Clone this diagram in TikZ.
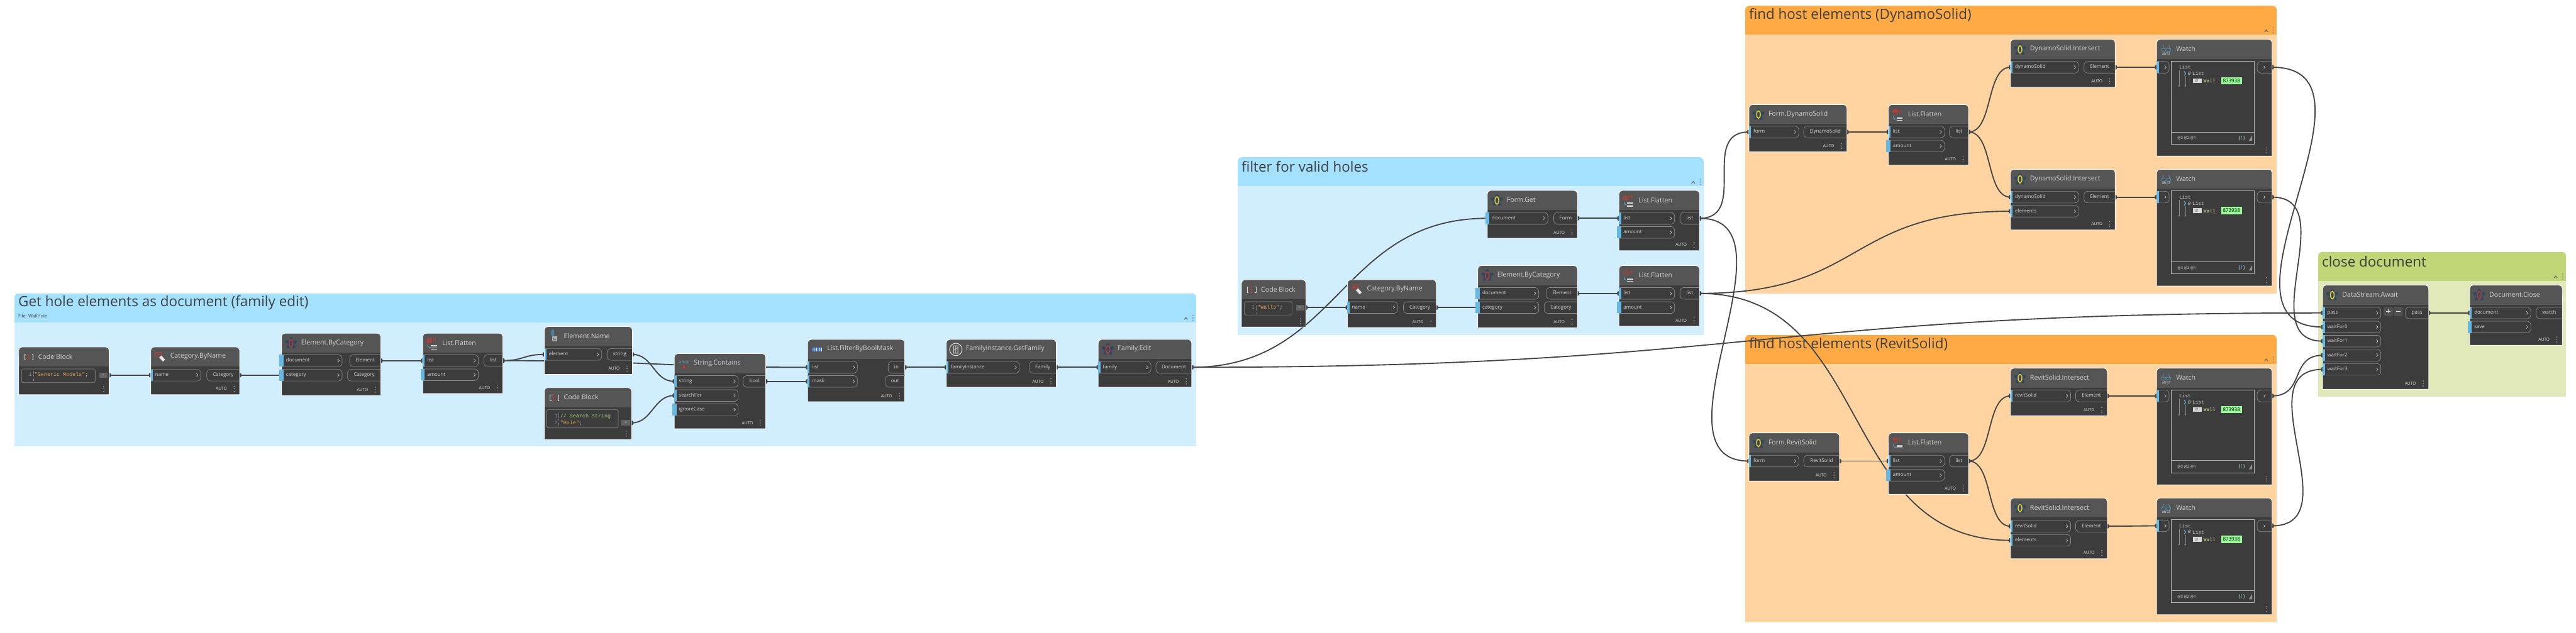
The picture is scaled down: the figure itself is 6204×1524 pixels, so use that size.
\documentclass[tikz,border=0pt]{standalone}
\usepackage{fontspec}
\setmainfont{Open Sans}
\setmonofont{Liberation Mono}
\usepackage{xcolor}
\usetikzlibrary{calc, backgrounds}

\definecolor{bodycol}{HTML}{3C3C3C}
\definecolor{headcol}{HTML}{555555}
\definecolor{btncol}{HTML}{636363}
\definecolor{linecol}{HTML}{8E8E8E}
\definecolor{barcol}{HTML}{66B8E2}
\definecolor{wirecol}{HTML}{454545}
\definecolor{txtcol}{HTML}{D4D4D4}
\definecolor{titlecol}{HTML}{3F3F3F}
\definecolor{dotcol}{HTML}{B0B0B0}
\definecolor{petalcol}{HTML}{2E4A62}
\definecolor{ringy}{HTML}{F2C81E}
\definecolor{ringr}{HTML}{BE3A34}
\definecolor{blueband}{HTML}{A4E1FF}
\definecolor{bluefill}{HTML}{D0EEFF}
\definecolor{orgband}{HTML}{FFAA45}
\definecolor{orgfill}{HTML}{FFD4A1}
\definecolor{grnband}{HTML}{C1D676}
\definecolor{grnfill}{HTML}{E1E9BB}
\definecolor{strcol}{HTML}{E2A35E}
\definecolor{cmtcol}{HTML}{A5CF80}
\definecolor{wallcol}{HTML}{E8E8A4}
\definecolor{idcol}{HTML}{99FF99}

\pgfdeclarelayer{grouplayer}
\pgfdeclarelayer{wirelayer}
\pgfsetlayers{grouplayer,wirelayer,main}

% group: name, x1, y1, x2, y2, band, fill, title
\newcommand{\dyngroup}[8]{
  \begin{pgfonlayer}{grouplayer}
  \pgfmathsetmacro\gw{(#4)-(#2)}\pgfmathsetmacro\gh{(#5)-(#3)}
  \node[groupn, minimum width=\gw, minimum height=\gh] (#1) at (#2,#3) {};
  \fill[#7] (#2,#3+60) rectangle (#4,#5);
  \fill[#6, rounded corners=10] (#2,#3) rectangle (#4,#3+40);
  \fill[#6] (#2,#3+15) rectangle (#4,#3+70);
  \node[gtitle] (#1t) at (#2+9,#3+23) {#8};
  \draw[linecol!70!black, line width=1.6] (#4-29,#3+63) -- (#4-25,#3+58) -- (#4-21,#3+63);
  \foreach \d in {53,59,65} \draw[linecol, line width=.6] (#4-8,#3+\d) circle (1.4pt);
  \end{pgfonlayer}
}
% box: name, x1, y1, x2, y2, title, icon
\newcommand{\dynbox}[7]{
  \pgfmathsetmacro\dw{(#4)-(#2)}\pgfmathsetmacro\dh{(#5)-(#3)}
  \node[boxn, minimum width=\dw, minimum height=\dh] (#1) at (#2,#3) {};
  \fill[bodycol] (#2,#3+12) rectangle (#4,#5);
  \fill[headcol, rounded corners=8] (#2,#3) rectangle (#4,#3+30);
  \fill[headcol] (#2,#3+12) rectangle (#4,#3+47);
  \draw[white, line width=1.2] (#2,#3+8) arc[start angle=180,end angle=90,radius=8pt] -- (#4-8,#3) arc[start angle=90,end angle=0,radius=8pt] -- (#4,#5) -- (#2,#5) -- cycle;
  \node[ntitle] (#1t) at (#2+47,#3+23) {#6};
  \begin{scope}[shift={(#2+23,#3+24)}] #7 \end{scope}
  \foreach \d in {-6,0,6} \fill[dotcol] (#4-13,#5-14+\d) circle (1.3pt);
}
\newcommand{\autotag}[1]{\node[autotxt] (#1auto) at ($(#1.south east)+(-44,-14)$) {AUTO};}
% input port: [bar overhang] name, x1, x2, y, label
\newcommand{\inp}[6][0]{
  \pgfmathsetmacro\pw{(#4)-(#3)}\pgfmathsetmacro\tw{(#4)-(#3)-22}
  \node[inport, minimum width=\pw, text width=\tw] (#2) at (#3,#5) {#6};
  \draw[linecol, rounded corners=9, line width=1] (#2.north west) -- (#2.north east) -- (#2.south east) -- (#2.south west);
  \fill[barcol] (#3-#1,#5-14) rectangle (#3+5,#5+14);
  \draw[txtcol, line width=.9] ($(#2.east)+(-11,-4)$) -- ($(#2.east)+(-7,0)$) -- ($(#2.east)+(-11,4)$);
}
% output port: name, x1, x2, y, label
\newcommand{\outp}[5]{
  \pgfmathsetmacro\pw{(#3)-(#2)}
  \node[outport, minimum width=\pw] (#1) at (#2,#4) {#5};
  \draw[linecol, rounded corners=9, line width=1] (#1.north east) -- (#1.north west) -- (#1.south west) -- (#1.south east);
}
% connector: from, control distance, to
\newcommand{\wire}[3]{
  \draw[wire] (#1) .. controls +(#2,0) and +(-#2,0) .. (#3.west);
  \fill[wirecol] ($(#1)+(0,-6)$) arc[start angle=90,delta angle=-180,x radius=5pt,y radius=6pt] -- cycle;
  \fill[wirecol] ($(#3.west)+(0,-6)$) arc[start angle=90,delta angle=180,x radius=5pt,y radius=6pt] -- cycle;
}
% code block: name, box x1, y1, x2, y2, rule x, output y
\newcommand{\codebox}[7]{
  \draw[linecol, rounded corners=3, line width=1] (#2,#3) rectangle (#4,#5);
  \draw[linecol, dotted, line width=.7] (#6,#3+5) -- (#6,#5-5);
  \fill[btncol] (#1.east |- 0,#7-6.5) ++(-24,0) rectangle ++(20,13);
  \node[outport, minimum width=20, minimum height=13, text height=6, text depth=0, anchor=east, font=\fontsize{9}{9}\selectfont] (#1btn) at ($(#1.east |- 0,#7)+(-4,0)$) {>};
  \coordinate (#1o) at (#1.east |- #1btn);
}
\newcommand{\codeline}[5]{
  \node[codetxt, anchor=east, text=linecol] (#1n) at (#2,#3) {#4};
  \node[codetxt] (#1c) at (#2+6,#3) {#5};
}
% watch: name, x1, y1
\newcommand{\dynwatch}[3]{
  \dynbox{#1}{#2}{#3}{#2+278}{#3+281}{Watch}{\watchicon{#1}}
  \inp{#1i}{#2}{#2+30}{#3+67}{}
  \outp{#1o}{#2+242}{#2+278}{#3+67}{}
  \draw[txtcol, line width=.9] (#2+258,#3+64) -- (#2+261,#3+67) -- (#2+258,#3+70);
  \draw[txtcol!85!black, line width=1.1] (#2+35,#3+52) rectangle (#2+235,#3+252);
  \draw[txtcol!85!black, line width=1.1] (#2+35,#3+223) -- (#2+235,#3+223);
  \node[monotxt] (#1a) at (#2+54,#3+67) {List};
  \draw[linecol, line width=.8] (#2+54,#3+74) -- (#2+54,#3+112);
  \draw[linecol, line width=.8] (#2+69,#3+89) -- (#2+69,#3+112);
  \fill[linecol] (#2+54,#3+112) circle (2pt) (#2+69,#3+112) circle (2pt);
  \draw[barcol, line width=1.6] (#2+66,#3+77) -- (#2+70,#3+82) -- (#2+66,#3+87);
  \node[monotxt] (#1b) at (#2+75,#3+82) {\textit{0}};
  \node[monotxt] (#1c) at (#2+86,#3+82) {List};
  \fill[white!85!black] (#2+87,#3+94) rectangle (#2+109,#3+105);
  \node[monotxt, text=black!70, font=\ttfamily\fontsize{10}{10}\selectfont] (#1d) at (#2+93,#3+99.5) {\textit{0}};
  \node[monotxt, text=wallcol] (#1e) at (#2+113,#3+100) {Wall};
  \node[idbox] (#1f) at (#2+155,#3+99.5) {873938};
  \node[monotxt, font=\fontsize{9}{9}\selectfont, text=txtcol!80] (#1g) at (#2+50,#3+238) {@3 @2 @1};
  \node[monotxt, font=\fontsize{12}{12}\selectfont] (#1h) at (#2+197,#3+238) {\{\textcolor{barcol}{1}\}};
  \fill[linecol] (#2+230,#3+231) -- (#2+230,#3+244) -- (#2+222,#3+244) -- cycle;
}
\newcommand{\flowericon}[1]{
  \foreach \a in {0,72,144,216,288} \fill[petalcol, rotate=\a] (0,-8) ellipse [x radius=4.5pt,y radius=7.5pt];
  \draw[#1, line width=2.4] (0,0) ellipse [x radius=4.5pt,y radius=9pt];
}
\newcommand{\codeicon}{
  \draw[txtcol!80, line width=1] (-6,-7) -- (-9,-7) -- (-9,7) -- (-6,7);
  \draw[txtcol!80, line width=1] (9,-7) -- (12,-7) -- (12,7) -- (9,7);
  \draw[ringr, line width=1.4] (-2,-7) -- (2,-7) (0,-7) -- (0,7) (-2,7) -- (2,7);
}
\newcommand{\tagicon}{
  \draw[ringr, line width=1.2] (-11,-11) rectangle (2,-2);
  \fill[ringr] (-8,-8) rectangle (-1,-5);
  \draw[white!90!black, line width=7] (0,-1) -- (9,9);
}
\newcommand{\flaticon}{
  \foreach \i in {0,1,2,3} \foreach \j in {0,1,2,3} \fill[ringr] (-12+\i*3.2,-12+\j*3.2) rectangle +(2.4,2.4);
  \draw[ringr, line width=1] (3,-4) -- (3,-11) -- (7,-11) -- (7,-4);
  \draw[barcol, line width=1.2] (-11,3) .. controls (-11,9) and (-8,11) .. (-3,11);
  \fill[white!85!black] (-3,5) rectangle (11,15);
  \foreach \i in {0,1,2} \draw[headcol, line width=.6] (-3,7.5+\i*2.5) -- (11,7.5+\i*2.5);
}
\newcommand{\nameicon}{
  \fill[barcol!70!black] (-3,-9) ellipse [x radius=4pt,y radius=9pt];
  \fill[white!70!black] (-4,-1) rectangle (8,11);
  \fill[headcol] (-2,3) rectangle (1,5) (-2,7) rectangle (5,9);
}
\newcommand{\stricon}{
  \node[autotxt, text=barcol!70!gray] (abcdicon) at (0,-3) {abcd};
  \fill[ringr] (-4,12) -- (4,12) -- (0,3) -- cycle;
}
\newcommand{\maskicon}{
  \fill[barcol!70!blue] (-12,-5) rectangle (12,4);
  \foreach \i in {-8,-2,4,10} \draw[white, line width=1.2] (\i,-5) -- (\i,4);
}
\newcommand{\famicon}{
  \draw[white!85!black, line width=1.6] (0,0) circle (15pt);
  \draw[white!85!black, line width=1.2] (-5,-9) -- (5,-9) -- (5,9) -- (-5,9) -- cycle (-5,0) -- (5,-4) (0,-9) -- (0,9);
}
\newcommand{\watchicon}[1]{
  \draw[barcol!80!black, line width=1.2] (-9,-1) -- (-6,-10) (9,-1) -- (6,-10) (-11,-2) -- (11,-2) (-11,-2) -- (-10,5) -- (-3,5) -- (0,1) -- (3,5) -- (10,5) -- (11,-2);
  \node[autotxt, font=\fontsize{8.5}{9}\selectfont, text=txtcol!70] (#1icon) at (0,10) {ab12};
}

\begin{document}
\begin{tikzpicture}[
    x=1pt, y=-1pt,
    groupn/.style={rectangle, anchor=north west, inner sep=0pt, outer sep=0pt},
    gtitle/.style={anchor=west, inner sep=0pt, text=titlecol, font=\fontsize{34}{38}\selectfont},
    boxn/.style={rectangle, anchor=north west, inner sep=0pt, outer sep=0pt},
    ntitle/.style={anchor=west, inner sep=0pt, text=txtcol, font=\fontsize{16}{19}\selectfont},
    inport/.style={rectangle, anchor=west, inner xsep=11pt, inner ysep=0pt, outer sep=0pt, minimum height=28pt, text height=9pt, text depth=3pt, align=left, text=txtcol, font=\fontsize{12}{14}\selectfont},
    outport/.style={rectangle, anchor=west, inner sep=0pt, outer sep=0pt, minimum height=28pt, text height=9pt, text depth=3pt, align=center, text=txtcol, font=\fontsize{12}{14}\selectfont},
    autotxt/.style={inner sep=0pt, text=white!90!black, font=\fontsize{10}{12}\selectfont},
    codetxt/.style={anchor=west, inner sep=0pt, text=txtcol, font=\ttfamily\fontsize{12.7}{15}\selectfont},
    monotxt/.style={anchor=west, inner sep=0pt, text=txtcol, font=\ttfamily\fontsize{11.8}{14}\selectfont},
    idbox/.style={rectangle, anchor=west, fill=idcol, inner sep=0pt, minimum width=50pt, minimum height=17pt, text=black, font=\fontsize{12}{14}\selectfont},
    wire/.style={draw=wirecol, line width=2.8}
]
\useasboundingbox (0,0) rectangle (6204,1524);

% groups
\dyngroup{gh}{35}{707}{2881}{1076}{blueband}{bluefill}{Get hole elements as document (family edit)}
\node[anchor=west, inner sep=0pt, text=titlecol, font=\fontsize{11}{13}\selectfont] (ghsub) at (44,761) {File: WallHole};
\dyngroup{gv}{2981}{379}{4103}{807}{blueband}{bluefill}{filter for valid holes}
\dyngroup{gd}{4203}{14}{5483}{707}{orgband}{orgfill}{find host elements (DynamoSolid)}
\dyngroup{gr}{4203}{807}{5483}{1499}{orgband}{orgfill}{find host elements (RevitSolid)}
\dyngroup{gc}{5583}{607}{6180}{955}{grnband}{grnfill}{close document}

% hole elements
\dynbox{cba}{45}{836}{263}{951}{Code Block}{\codeicon}
\codebox{cba}{52}{889}{229}{922}{81}{904}
\codeline{cbal}{77}{903}{1}{\textcolor{strcol}{"Generic Models"}\textcolor{txtcol}{;}}
\dynbox{cata}{363}{836}{577}{951}{Category.ByName}{\tagicon}\autotag{cata}
\inp{catan}{363}{484}{904}{name}
\outp{catac}{498}{577}{904}{Category}
\dynbox{eca}{678}{803}{917}{953}{Element.ByCategory}{\flowericon{ringr}}\autotag{eca}
\inp[5]{ecad}{678}{824}{869}{document}
\inp[5]{ecac}{678}{824}{904}{category}
\outp{ecae}{842}{917}{869}{Element}
\outp{ecao}{837}{917}{904}{Category}
\dynbox{lfa}{1018}{803}{1211}{948}{List.Flatten}{\flaticon}\autotag{lfa}
\inp{lfal}{1018}{1152}{869}{list}
\inp[5]{lfaa}{1018}{1152}{903}{amount}
\outp{lfao}{1165}{1211}{869}{list}
\dynbox{en}{1311}{787}{1523}{902}{Element.Name}{\nameicon}\autotag{en}
\inp{ene}{1311}{1449}{854}{element}
\outp{ens}{1462}{1523}{854}{string}
\dynbox{cbb}{1311}{934}{1521}{1059}{Code Block}{\codeicon}
\codebox{cbb}{1317}{987}{1489}{1031}{1346}{1019}
\codeline{cbbl}{1343}{1003}{1}{\textcolor{cmtcol}{// Search string}}
\codeline{cbbm}{1343}{1019}{2}{\textcolor{strcol}{"Hole"}\textcolor{txtcol}{;}}
\dynbox{sc}{1624}{852}{1844}{1033}{String.Contains}{\stricon}\autotag{sc}
\inp{scs}{1624}{1778}{919}{string}
\inp{scf}{1624}{1778}{953}{searchFor}
\inp[5]{sci}{1624}{1778}{987}{ignoreCase}
\outp{scb}{1790}{1844}{919}{bool}
\dynbox{fb}{1945}{818}{2179}{968}{List.FilterByBoolMask}{\maskicon}\autotag{fb}
\inp{fbl}{1945}{2065}{885}{list}
\inp{fbm}{1945}{2065}{919}{mask}
\outp{fbi}{2139}{2179}{885}{in}
\outp{fbo}{2132}{2179}{919}{out}
\dynbox{gf}{2279}{818}{2544}{933}{FamilyInstance.GetFamily}{\famicon}\autotag{gf}
\inp{gfi}{2279}{2455}{885}{familyInstance}
\outp{gfo}{2479}{2544}{885}{Family}
\dynbox{fe}{2645}{818}{2870}{933}{Family.Edit}{\flowericon{ringr}}\autotag{fe}
\inp{fei}{2645}{2772}{885}{family}
\outp{feo}{2784}{2870}{885}{Document}

% valid holes
\dynbox{cbc}{2990}{674}{3145}{788}{Code Block}{\codeicon}
\codebox{cbc}{2997}{727}{3112}{759}{3025}{741}
\codeline{cbcl}{3022}{741}{1}{\textcolor{strcol}{"Walls"}\textcolor{txtcol}{;}}
\dynbox{catb}{3245}{674}{3459}{789}{Category.ByName}{\tagicon}\autotag{catb}
\inp{catbn}{3245}{3366}{741}{name}
\outp{catbc}{3380}{3459}{741}{Category}
\dynbox{ecb}{3559}{640}{3799}{790}{Element.ByCategory}{\flowericon{ringr}}\autotag{ecb}
\inp[5]{ecbd}{3559}{3706}{707}{document}
\inp[5]{ecbc}{3559}{3706}{741}{category}
\outp{ecbe}{3724}{3799}{707}{Element}
\outp{ecbo}{3719}{3799}{741}{Category}
\dynbox{lfc}{3899}{640}{4093}{786}{List.Flatten}{\flaticon}\autotag{lfc}
\inp{lfcl}{3899}{4033}{707}{list}
\inp[5]{lfca}{3899}{4033}{741}{amount}
\outp{lfco}{4046}{4093}{707}{list}
\dynbox{fg}{3582}{459}{3799}{574}{Form.Get}{\flowericon{ringy}}\autotag{fg}
\inp[5]{fgd}{3582}{3728}{526}{document}
\outp{fgf}{3742}{3799}{526}{Form}
\dynbox{lfb}{3899}{459}{4093}{604}{List.Flatten}{\flaticon}\autotag{lfb}
\inp{lfbl}{3899}{4033}{526}{list}
\inp[5]{lfba}{3899}{4033}{560}{amount}
\outp{lfbo}{4046}{4093}{526}{list}

% DynamoSolid
\dynbox{fd}{4212}{252}{4448}{366}{Form.DynamoSolid}{\flowericon{ringy}}\autotag{fd}
\inp{fdf}{4212}{4332}{318}{form}
\outp{fdo}{4344}{4448}{318}{DynamoSolid}
\dynbox{lfd}{4548}{252}{4741}{398}{List.Flatten}{\flaticon}\autotag{lfd}
\inp{lfdl}{4548}{4683}{318}{list}
\inp[5]{lfda}{4548}{4683}{352}{amount}
\outp{lfdo}{4695}{4741}{318}{list}
\dynbox{dsa}{4842}{95}{5094}{210}{DynamoSolid.Intersect}{\flowericon{ringy}}\autotag{dsa}
\inp{dsad}{4842}{5006}{162}{dynamoSolid}
\outp{dsae}{5019}{5094}{162}{Element}
\dynbox{dsb}{4842}{408}{5094}{554}{DynamoSolid.Intersect}{\flowericon{ringy}}\autotag{dsb}
\inp{dsbd}{4842}{5006}{475}{dynamoSolid}
\inp{dsbl}{4842}{5006}{509}{elements}
\outp{dsbe}{5019}{5094}{475}{Element}
\dynwatch{wa}{5194}{95}
\dynwatch{wb}{5194}{408}

% RevitSolid
\dynbox{fr}{4212}{1043}{4430}{1159}{Form.RevitSolid}{\flowericon{ringy}}\autotag{fr}
\inp{frf}{4212}{4332}{1111}{form}
\outp{fro}{4344}{4430}{1111}{RevitSolid}
\dynbox{lfe}{4548}{1043}{4741}{1191}{List.Flatten}{\flaticon}\autotag{lfe}
\inp{lfel}{4548}{4683}{1111}{list}
\inp[5]{lfea}{4548}{4683}{1145}{amount}
\outp{lfeo}{4695}{4741}{1111}{list}
\dynbox{rsa}{4842}{887}{5075}{1002}{RevitSolid.Intersect}{\flowericon{ringy}}\autotag{rsa}
\inp{rsad}{4842}{4987}{954}{revitSolid}
\outp{rsae}{4999}{5075}{954}{Element}
\dynbox{rsb}{4842}{1200}{5075}{1346}{RevitSolid.Intersect}{\flowericon{ringy}}\autotag{rsb}
\inp{rsbd}{4842}{4987}{1268}{revitSolid}
\inp{rsbl}{4842}{4987}{1302}{elements}
\outp{rsbe}{4999}{5075}{1268}{Element}
\dynwatch{wc}{5194}{887}
\dynwatch{wd}{5194}{1200}

% close document
\dynbox{ds}{5594}{687}{5849}{938}{DataStream.Await}{\flowericon{ringy}}\autotag{ds}
\inp{dsp}{5594}{5734}{754}{pass}
\inp{dsw}{5594}{5734}{788}{waitFor0}
\inp{dsx}{5594}{5734}{822}{waitFor1}
\inp{dsy}{5594}{5734}{856}{waitFor2}
\inp{dsz}{5594}{5734}{890}{waitFor3}
\outp{dso}{5793}{5849}{754}{pass}
\fill[btncol!80!black, rounded corners=3] (5741,739) rectangle (5763,762) (5765,739) rectangle (5787,762);
\draw[txtcol!70, line width=1.2] (5747,750) -- (5757,750) (5752,745) -- (5752,755) (5771,750) -- (5781,750);
\dynbox{dc}{5948}{687}{6171}{832}{Document.Close}{\flowericon{ringr}}\autotag{dc}
\inp{dcd}{5948}{6095}{754}{document}
\inp[5]{dcs}{5948}{6095}{788}{save}
\outp{dcw}{6108}{6171}{754}{watch}

\begin{pgfonlayer}{wirelayer}
\wire{cbao}{30}{catan}
\wire{catac.east}{30}{ecac}
\wire{ecae.east}{30}{lfal}
\wire{lfao.east}{50}{ene}
\wire{lfao.east}{367}{fbl}
\wire{ens.east}{50}{scs}
\wire{cbbo}{50}{scf}
\wire{scb.east}{30}{fbm}
\wire{fbi.east}{30}{gfi}
\wire{gfo.east}{30}{fei}
\wire{feo.east}{356}{fgd}
\wire{feo.east}{1362}{dsp}
\wire{cbco}{30}{catbn}
\wire{catbc.east}{30}{ecbc}
\wire{ecbe.east}{30}{lfcl}
\wire{fgf.east}{30}{lfbl}
\wire{lfbo.east}{120}{fdf}
\wire{lfbo.east}{250}{frf}
\wire{lfco.east}{400}{dsbl}
\wire{lfco.east}{420}{rsbl}
\wire{fdo.east}{30}{lfdl}
\wire{lfdo.east}{60}{dsad}
\wire{lfdo.east}{60}{dsbd}
\wire{dsae.east}{30}{wai}
\wire{dsbe.east}{30}{wbi}
\wire{fro.east}{30}{lfel}
\wire{lfeo.east}{60}{rsad}
\wire{lfeo.east}{60}{rsbd}
\wire{rsae.east}{30}{wci}
\wire{rsbe.east}{30}{wdi}
\wire{wao.east}{300}{dsw}
\wire{wbo.east}{170}{dsx}
\wire{wco.east}{80}{dsy}
\wire{wdo.east}{190}{dsz}
\wire{dso.east}{30}{dcd}
\end{pgfonlayer}

\end{tikzpicture}
\end{document}
